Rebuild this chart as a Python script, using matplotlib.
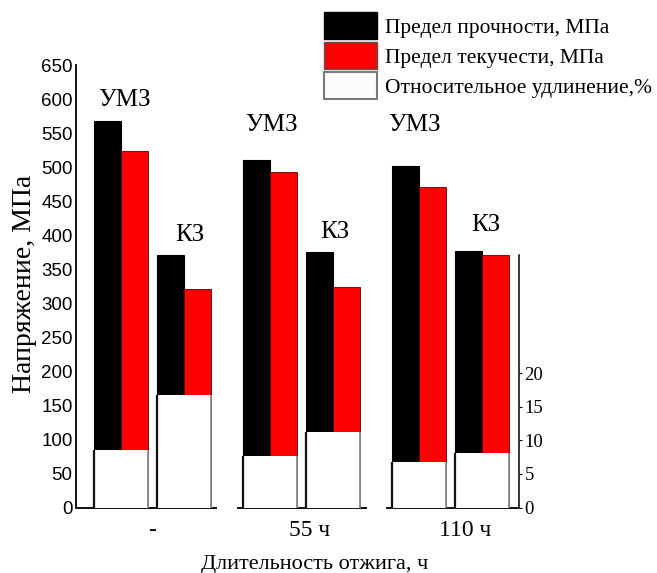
import matplotlib
matplotlib.use("Agg")
import matplotlib.pyplot as plt
from matplotlib.patches import Patch
import numpy as np

# Annealing duration groups and material states
durations = ["-", "55 ч", "110 ч"]
states = ["УМЗ", "КЗ"]

# Ultimate tensile strength, MPa  [УМЗ, КЗ] per duration
uts = [[568, 371], [511, 376], [501, 377]]
# Yield strength, MPa
ys = [[523, 321], [493, 324], [471, 371]]
# Relative elongation, %
elong = [[8.6, 16.8], [7.7, 11.3], [6.8, 8.1]]

legend_labels = ["Предел прочности, МПа", "Предел текучести, МПа",
                 "Относительное удлинение,%"]

SERIF = "Liberation Serif"
SANS = "Liberation Sans"

W, H = 657, 573
fig = plt.figure(figsize=(W / 100, H / 100), dpi=100)
ax = fig.add_axes([76 / W, (H - 507.5) / H, (519 - 76) / W, (507.5 - 65) / H])
ax2 = ax.twinx()

bw = 0.181      # width of a single bar
off = 0.211     # offset of each state pair from the group centre
centers = np.arange(len(durations), dtype=float)

for gi, c in enumerate(centers):
    for si, sgn in enumerate((-1, 1)):
        pc = c + sgn * off
        ax.bar(pc - bw / 2, uts[gi][si], width=bw, color="black",
               edgecolor="black", linewidth=0.8, zorder=2)
        ax.bar(pc + bw / 2, ys[gi][si], width=bw, color="#ff0000",
               edgecolor="#5a0000", linewidth=0.6, zorder=2)
        ax2.bar(pc, elong[gi][si], width=2 * bw, color="white",
                edgecolor="none", linewidth=0, zorder=3)
        ax2.vlines(pc - bw, 0, elong[gi][si], color="#111111",
                   linewidth=1.6, zorder=4)
        ax2.vlines(pc + bw, 0, elong[gi][si], color="#8a8a8a",
                   linewidth=1.3, zorder=4)

# state labels above each pair
umz_y = [599, 562, 562]
kz_y = [401, 404, 415]
umz_dx = [0.02, 0.01, -0.03]
kz_dx = [0.04, 0.01, 0.02]
for gi, c in enumerate(centers):
    ax.text(c - off + umz_dx[gi], umz_y[gi], states[0], ha="center",
            va="center", fontsize=18, family=SERIF)
    ax.text(c + off + kz_dx[gi], kz_y[gi], states[1], ha="center",
            va="center", fontsize=18, family=SERIF)

# broken baseline under each group
xl, xr = -0.513, 2.456
seg = 0.435
for gi, c in enumerate(centers):
    a = xl if gi == 0 else c - seg
    b = xr if gi == len(centers) - 1 else c + seg
    ax.hlines(0, a, b, color="black", linewidth=1.3, zorder=5, clip_on=False)

ax.set_xlim(xl, xr)
ax.set_ylim(0, 650)
ax2.set_ylim(0, 66)

for s in ("top", "right", "bottom"):
    ax.spines[s].set_visible(False)
for s in ("top", "left", "bottom"):
    ax2.spines[s].set_visible(False)
ax.spines["left"].set_linewidth(1.3)
ax.spines["left"].set_bounds(0, 650)
ax2.spines["right"].set_linewidth(1.1)
ax2.spines["right"].set_bounds(0, 37.7)

ax.set_yticks(np.arange(0, 651, 50))
ax.tick_params(axis="y", length=0, pad=2.5, labelsize=13.5)
for t in ax.get_yticklabels():
    t.set_family(SANS)

ax2.set_yticks([0, 5, 10, 15, 20])
ax2.tick_params(axis="y", length=2, width=0.8, pad=2, labelsize=13.5)
for t in ax2.get_yticklabels():
    t.set_family(SERIF)

ax.set_xticks(centers + np.array([0.0, 0.055, 0.095]))
ax.set_xticklabels(durations, fontsize=17, family=SERIF)
ax.tick_params(axis="x", length=0, pad=9)

fig.text(25 / W, (H - 284) / H, "Напряжение, МПа", rotation=90,
         ha="center", va="center", fontsize=20, family=SERIF)
fig.text(315 / W, (H - 565) / H, "Длительность отжига, ч",
         ha="center", va="center", fontsize=16, family=SERIF)

handles = [Patch(facecolor="black", edgecolor="black"),
           Patch(facecolor="#ff0000", edgecolor="#555555"),
           Patch(facecolor="#fbfbfb", edgecolor="#7a7a7a", linewidth=1.5)]
fig.legend(handles, legend_labels, loc="upper left",
           bbox_to_anchor=(324 / W, (H - 12) / H), frameon=False,
           prop={"family": SERIF, "size": 15.5}, handlelength=2.45,
           handleheight=1.55, labelspacing=0.14, handletextpad=0.38,
           borderpad=0, borderaxespad=0)

fig.savefig("out.png", dpi=100)
